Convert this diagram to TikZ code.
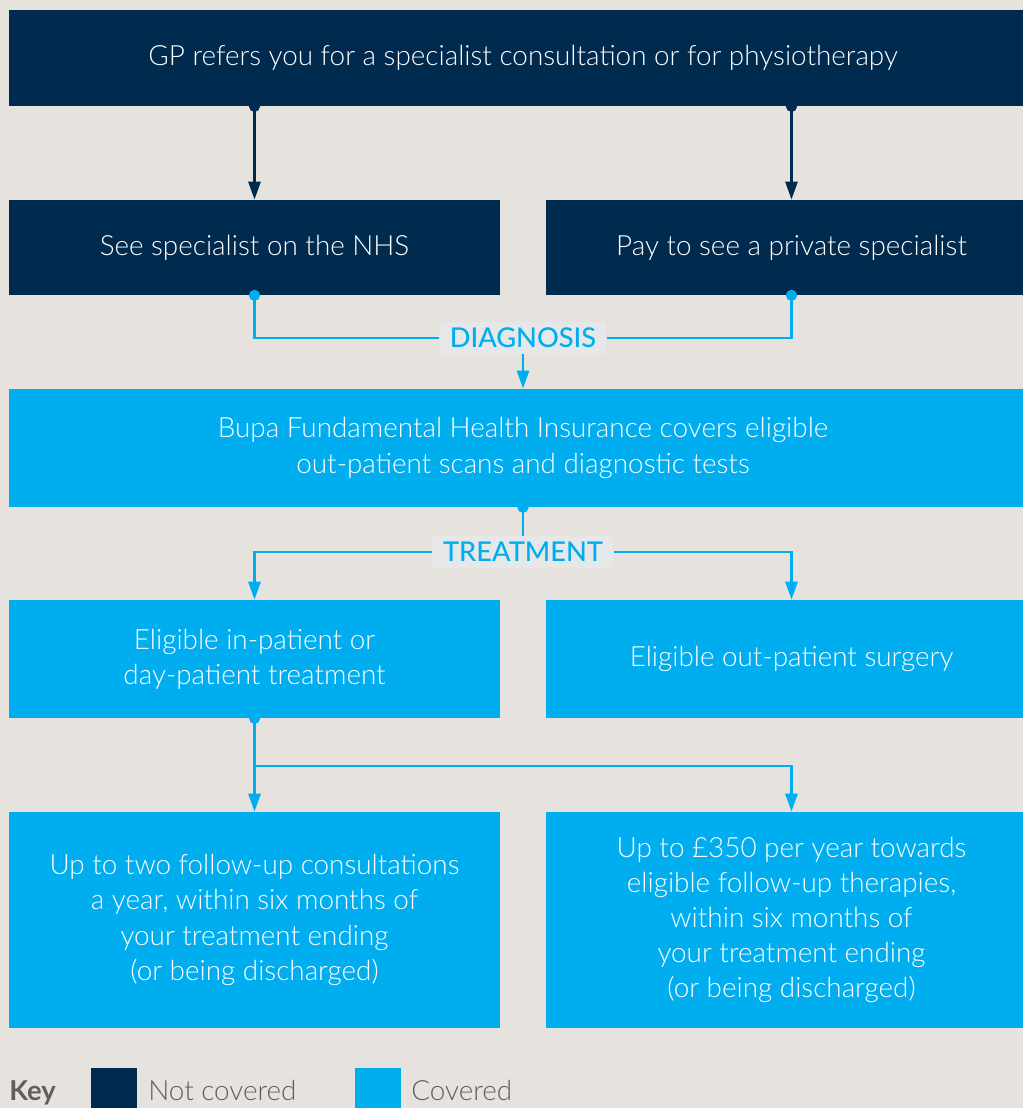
\documentclass[tikz,border=0pt]{standalone}
\usepackage{fontspec}
\setmainfont{Lato}
\newfontfamily\lightfont{Lato Light}
\newfontfamily\mediumfont{Lato Medium}
\usetikzlibrary{arrows.meta,positioning}
\definecolor{navy}{HTML}{002A4E}
\definecolor{bupablue}{HTML}{00AEEF}
\definecolor{paper}{HTML}{E6E3DF}
\definecolor{tagbg}{HTML}{E6E7E8}
\definecolor{keygrey}{HTML}{5F5F5F}
\newcommand{\boxfont}{\lightfont\fontsize{15.85}{20}\selectfont}
\tikzstyle{notcovered} = [fill=navy, text=white, inner sep=0pt, align=center, font=\boxfont]
\tikzstyle{covered} = [fill=bupablue, text=white, inner sep=0pt, align=center, font=\boxfont]
\tikzstyle{stage} = [fill=tagbg, text=bupablue, inner sep=0pt, minimum height=0.63cm, font=\mediumfont\fontsize{15.5}{20}\selectfont]
\tikzstyle{navyarrow} = [navy, line width=1.6pt, {Circle[length=0.22cm]}-{Triangle[width=0.24cm,length=0.36cm]}, shorten <=-0.11cm]
\tikzstyle{bluedot} = [bupablue, line width=1.6pt, {Circle[length=0.22cm]}-, shorten <=-0.11cm]
\tikzstyle{bluearrow} = [bupablue, line width=1.6pt, -{Triangle[width=0.24cm,length=0.36cm]}]
\tikzstyle{bluedotarrow} = [bupablue, line width=1.6pt, {Circle[length=0.22cm]}-{Triangle[width=0.24cm,length=0.36cm]}, shorten <=-0.11cm]
\tikzstyle{keytext} = [anchor=base west, text=keygrey, inner sep=0pt, font=\boxfont]

\begin{document}
\begin{tikzpicture}[x=0.02cm, y=-0.02cm]
		\fill[paper] (0,0) rectangle (1023,1108);
		\useasboundingbox (0,0) rectangle (1023,1108);

		\node[notcovered, minimum width=20.56cm, minimum height=1.92cm] (gp) at (523,58) {GP refers you for a specialist consultation or for physiotherapy};
		\node[notcovered, minimum width=9.82cm, minimum height=1.9cm] (nhs) at (254.5,247.5) {See specialist on the NHS};
		\node[notcovered, minimum width=9.82cm, minimum height=1.9cm] (private) at (791.5,247.5) {Pay to see a private specialist};

		\node[stage, minimum width=3.34cm] (diagnosis) at (523,338) {DIAGNOSIS};

		\node[covered, minimum width=20.56cm, minimum height=2.36cm] (bupa) at (523,448) {Bupa Fundamental Health Insurance covers eligible\\out-patient scans and diagnostic tests};

		\node[stage, minimum width=3.62cm] (treatment) at (523,552) {TREATMENT};

		\node[covered, minimum width=9.82cm, minimum height=2.36cm] (inpatient) at (254.5,659) {Eligible in-patient or\\day-patient treatment};
		\node[covered, minimum width=9.82cm, minimum height=2.36cm] (outpatient) at (791.5,659) {Eligible out-patient surgery};

		\node[covered, minimum width=9.82cm, minimum height=4.32cm] (followup) at (254.5,920) {Up to two follow-up consultations\\a year, within six months of\\your treatment ending\\(or being discharged)};
		\node[covered, minimum width=9.82cm, minimum height=4.32cm] (therapies) at (791.5,920) {Up to \pounds350 per year towards\\eligible follow-up therapies,\\within six months of\\your treatment ending\\(or being discharged)};

		\draw[navyarrow] (nhs.north |- gp.south) -- (nhs.north);
		\draw[navyarrow] (private.north |- gp.south) -- (private.north);

		\draw[bluedot] (nhs.south) |- (diagnosis.west);
		\draw[bluedot] (private.south) |- (diagnosis.east);
		\draw[bluearrow] (diagnosis.south) -- (bupa.north);

		\draw[bluedot] (bupa.south) -- (treatment.north);
		\draw[bluearrow] (treatment.west) -| (inpatient.north);
		\draw[bluearrow] (treatment.east) -| (outpatient.north);

		\coordinate (split) at (254.5,766);
		\draw[bluedotarrow] (inpatient.south) -- (followup.north);
		\draw[bluearrow] (split) -| (therapies.north);

		\node[keytext, font=\fontsize{15.6}{20}\selectfont\bfseries] (key) at (9,1100) {Key};
		\node[fill=navy, minimum size=0.92cm, inner sep=0pt] (keynavy) at (114,1091) {};
		\node[keytext] (keynot) at (148,1100) {Not covered};
		\node[fill=bupablue, minimum size=0.92cm, inner sep=0pt] (keyblue) at (378,1091) {};
		\node[keytext] (keycov) at (411,1100) {Covered};
	\end{tikzpicture}
\end{document}
